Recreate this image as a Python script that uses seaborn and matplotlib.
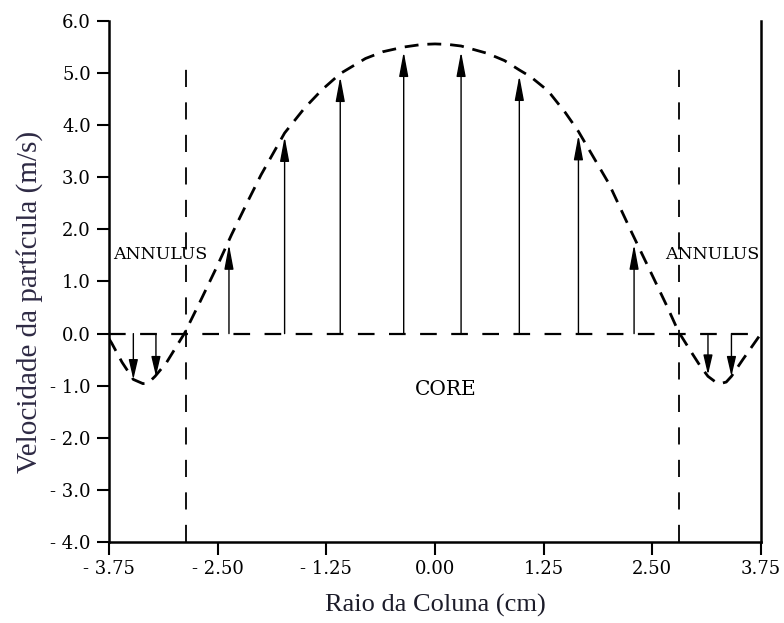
import matplotlib
matplotlib.use("Agg")
import matplotlib.pyplot as plt
import seaborn as sns
import numpy as np

# ---- data ----
curve_x = [-3.75, -3.72, -3.60, -3.47, -3.36, -3.30, -3.22, -3.09, -2.88, -2.70,
           -2.51, -2.34, -2.15, -2.00, -1.73, -1.50, -1.30, -1.09, -0.80, -0.60,
           -0.36, -0.15, 0.00, 0.15, 0.30, 0.60, 0.80, 0.97, 1.10, 1.30, 1.50,
           1.65, 2.00, 2.26, 2.47, 2.67, 2.80, 2.95, 3.05, 3.14, 3.22,
           3.28, 3.35, 3.41, 3.54, 3.70, 3.75]
curve_y = [-0.10, -0.18, -0.55, -0.88, -0.96, -0.95, -0.82, -0.56, 0.01, 0.62,
           1.28, 1.90, 2.55, 3.05, 3.85, 4.33, 4.68, 4.99, 5.28, 5.41,
           5.50, 5.55, 5.56, 5.55, 5.52, 5.38, 5.24, 5.06, 4.93, 4.66, 4.24,
           3.88, 2.88, 1.95, 1.22, 0.52, 0.04, -0.36, -0.62, -0.82, -0.92,
           -0.96, -0.93, -0.82, -0.50, -0.12, 0.00]

up_x = [-2.37, -1.73, -1.09, -0.36, 0.30, 0.97, 1.65, 2.29]
up_tip = [1.71, 3.78, 4.93, 5.41, 5.41, 4.95, 3.81, 1.71]

down_x = [-3.47, -3.21, 3.14, 3.41]
down_tip = [-0.88, -0.82, -0.79, -0.82]

boundary_x = [-2.87, 2.81]
boundary_top = 5.1

x_ticks = [-3.75, -2.50, -1.25, 0.00, 1.25, 2.50, 3.75]
x_ticklabels = ["- 3.75", "- 2.50", "- 1.25", "0.00", "1.25", "2.50", "3.75"]
y_ticks = [6, 5, 4, 3, 2, 1, 0, -1, -2, -3, -4]
y_ticklabels = ["6.0", "5.0", "4.0", "3.0", "2.0", "1.0", "0.0",
                "- 1.0", "- 2.0", "- 3.0", "- 4.0"]

x_label = "Raio da Coluna (cm)"
y_label = "Velocidade da partícula (m/s)"

# ---- styling ----
sns.set_theme(style="ticks")
plt.rcParams["font.family"] = ["DejaVu Serif", "DejaVu Sans"]

W, H = 784, 623
fig = plt.figure(figsize=(W / 100, H / 100), dpi=100)
ax = fig.add_axes([109 / W, 1 - 542 / H, (761 - 109) / W, (542 - 21) / H])

# curve
sns.lineplot(x=curve_x, y=curve_y, ax=ax, sort=False, color="black",
             linewidth=2.0, estimator=None)
ax.lines[-1].set_dashes((5, 3.2))

# zero line
sns.lineplot(x=[x_ticks[0], x_ticks[-1]], y=[0, 0], ax=ax, color="black",
             linewidth=1.6, estimator=None)
ax.lines[-1].set_dashes((7.5, 6.5))

# boundary lines
for bx in boundary_x:
    ax.plot([bx, bx], [-4, boundary_top], color="black", linewidth=1.3,
            dashes=(9.5, 8.5))

# arrows
for x, t in zip(up_x, up_tip):
    ax.annotate("", xy=(x, t), xytext=(x, 0),
                arrowprops=dict(arrowstyle="-|>,head_length=0.75,head_width=0.14",
                                mutation_scale=20, lw=1.0, color="black",
                                shrinkA=0, shrinkB=0))
for x, t in zip(down_x, down_tip):
    ax.annotate("", xy=(x, t), xytext=(x, 0),
                arrowprops=dict(arrowstyle="-|>,head_length=0.6,head_width=0.14",
                                mutation_scale=20, lw=1.0, color="black",
                                shrinkA=0, shrinkB=0))

# texts
ax.text(-3.16, 1.51, "ANNULUS", ha="center", va="center", fontsize=12.5,
        family="DejaVu Serif", color="black")
ax.text(3.19, 1.51, "ANNULUS", ha="center", va="center", fontsize=12.5,
        family="DejaVu Serif", color="black")
ax.text(0.12, -1.07, "CORE", ha="center", va="center", fontsize=14.5,
        family="DejaVu Serif", color="black")

# axes
ax.set_xlim(-3.75, 3.75)
ax.set_ylim(-4, 6)
ax.set_xticks(x_ticks)
ax.set_xticklabels(x_ticklabels)
ax.set_yticks(y_ticks)
ax.set_yticklabels(y_ticklabels)
ax.tick_params(axis="both", direction="out", length=9, width=1.5,
               labelsize=13, colors="black", pad=4)
for lab in ax.get_xticklabels() + ax.get_yticklabels():
    lab.set_family("DejaVu Serif")

ax.spines["top"].set_visible(False)
for s in ["left", "bottom", "right"]:
    ax.spines[s].set_linewidth(1.8)
    ax.spines[s].set_color("black")
ax.set_facecolor("white")
ax.grid(False)

fig.text(435 / W, 1 - 605 / H, x_label, ha="center", va="center",
         fontsize=19, family="Liberation Serif", color="#1c1c2a")
fig.text(30 / W, 1 - 302 / H, y_label, ha="center", va="center",
         rotation=90, fontsize=21, family="Liberation Serif", color="#2e2a44")

fig.savefig("out.png", dpi=100, facecolor="white")
